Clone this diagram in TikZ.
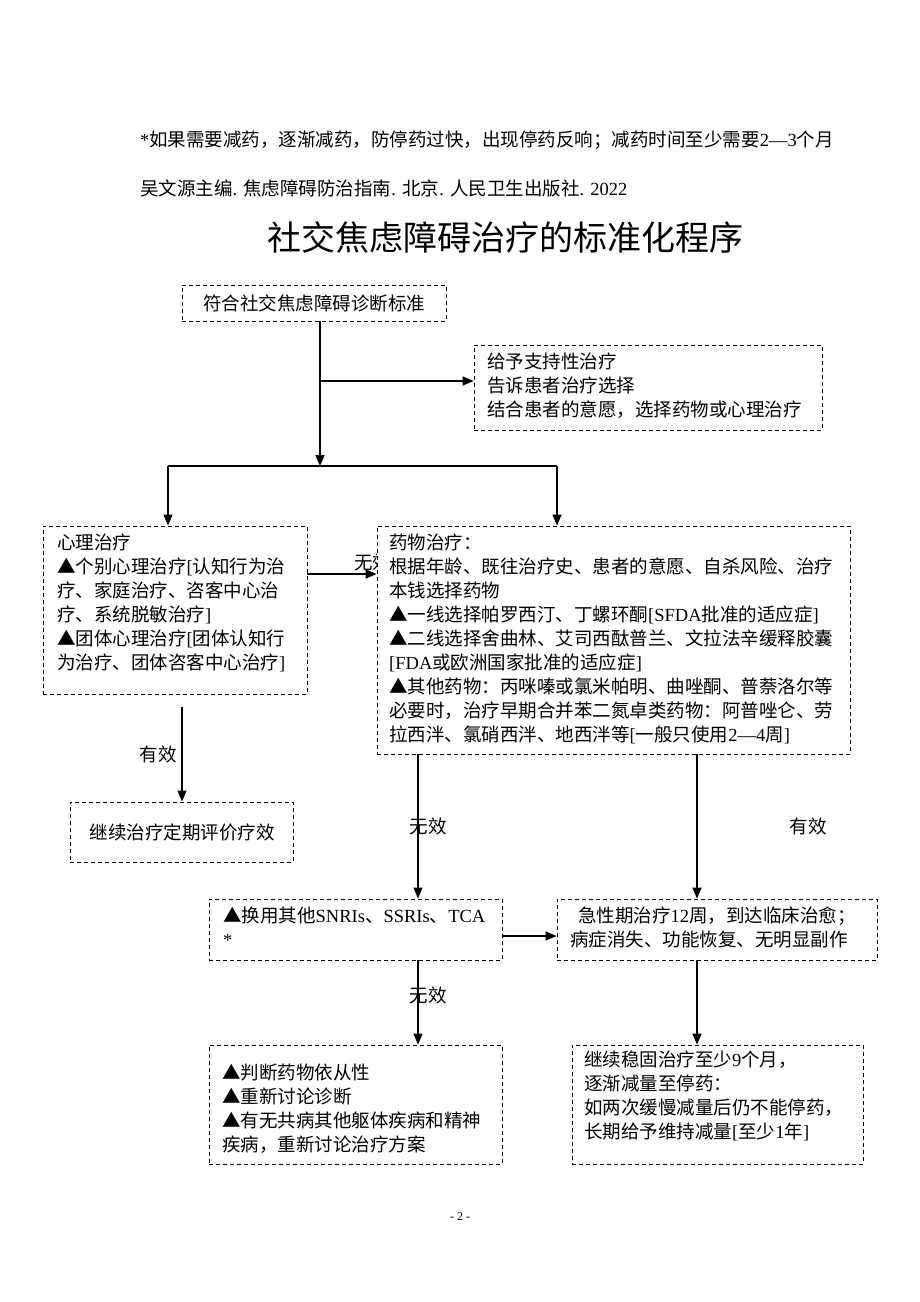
\documentclass[tikz,border=0pt]{standalone}
\usepackage{fontspec}
\setmainfont{Liberation Serif}
\newfontfamily\cjk{Noto Sans CJK SC}
\usetikzlibrary{arrows.meta,fit}
\newcommand\latn[1]{{\rmfamily #1}}
\begin{document}
\begin{tikzpicture}[x=1pt,y=-1pt,
  box/.style={draw, dash pattern=on 4pt off 3pt, line width=0.9pt, fill=white, inner sep=0pt},
  txt/.style={font=\cjk\fontsize{18.5}{24}\selectfont, align=left, inner sep=0pt, anchor=north west},
  ctxt/.style={font=\cjk\fontsize{18.5}{24}\selectfont, align=center, inner sep=0pt},
  lab/.style={font=\cjk\fontsize{18.5}{24}\selectfont, inner sep=0pt},
  head/.style={font=\cjk\fontsize{18.5}{24}\selectfont, inner sep=0pt, anchor=west},
  conn/.style={line width=1.3pt},
  arr/.style={conn, -{Triangle[length=11pt,width=9pt]}}]
\useasboundingbox[fill=white] (0,0) rectangle (920,1302);

% header
\node[head] (h1) at (140,140) {\latn{*}如果需要减药，逐渐减药，防停药过快，出现停药反响；减药时间至少需要\latn{2—3}个月};
\node[head] (h2) at (140,188) {吴文源主编\latn{. }焦虑障碍防治指南\latn{. }北京\latn{. }人民卫生出版社\latn{. 2022}};
\node[font=\cjk\fontsize{34}{40}\selectfont, inner sep=0pt] (title) at (505,237) {社交焦虑障碍治疗的标准化程序};

% label partly covered by the drug box
\node[lab, anchor=west] (lw0) at (354,562) {无效};

% boxes
\node[box, fit={(182,285) (446,321)}] (b1) {};
\node[box, fit={(474,345) (822,430)}] (b2) {};
\node[box, fit={(43,526) (307,694)}] (L) {};
\node[box, fit={(377,526) (850,754)}] (R) {};
\node[box, fit={(70,802) (293,862)}] (lc) {};
\node[box, fit={(209,899) (502,960)}] (s) {};
\node[box, fit={(557,899) (877,960)}] (a) {};
\node[box, fit={(209,1045) (502,1164)}] (jb) {};
\node[box, fit={(572,1045) (863,1164)}] (k) {};

% texts
\node[ctxt] (b1t) at (314,303) {符合社交焦虑障碍诊断标准};
\node[txt] (b2t) at (487,353) {给予支持性治疗\\告诉患者治疗选择\\结合患者的意愿，选择药物或心理治疗};
\node[txt] (Lt) at (57,534) {心理治疗\\▲个别心理治疗\latn{[}认知行为治\\疗、家庭治疗、咨客中心治\\疗、系统脱敏治疗\latn{]}\\▲团体心理治疗\latn{[}团体认知行\\为治疗、团体咨客中心治疗\latn{]}};
\node[txt] (Rt) at (389,534) {药物治疗：\\根据年龄、既往治疗史、患者的意愿、自杀风险、治疗\\本钱选择药物\\▲一线选择帕罗西汀、丁螺环酮\latn{[SFDA}批准的适应症\latn{]}\\▲二线选择舍曲林、艾司西酞普兰、文拉法辛缓释胶囊\\\latn{[FDA}或欧洲国家批准的适应症\latn{]}\\▲其他药物：丙咪嗪或氯米帕明、曲唑酮、普萘洛尔等\\必要时，治疗早期合并苯二氮卓类药物：阿普唑仑、劳\\拉西泮、氯硝西泮、地西泮等\latn{[}一般只使用\latn{2—4}周\latn{]}};
\node[ctxt] (lct) at (182,832) {继续治疗定期评价疗效};
\node[txt] (st) at (223,907) {▲换用其他\latn{SNRIs}、\latn{SSRIs}、\latn{TCA}\\\latn{*}};
\node[txt] (at) at (570,907) {\hspace{8pt}急性期治疗\latn{12}周，到达临床治愈；\\病症消失、功能恢复、无明显副作};
\node[txt] (jt) at (222,1064) {▲判断药物依从性\\▲重新讨论诊断\\▲有无共病其他躯体疾病和精神\\疾病，重新讨论治疗方案};
\node[txt] (kt) at (584,1051) {继续稳固治疗至少\latn{9}个月，\\逐渐减量至停药：\\如两次缓慢减量后仍不能停药，\\长期给予维持减量\latn{[}至少\latn{1}年\latn{]}};

% connectors
\coordinate (j) at (320,466);
\coordinate (jl) at (168,466);
\coordinate (jr) at (557,466);
\coordinate (m) at (320,381);
\draw[arr] (b1.south -| j) -- (j);
\draw[arr] (m) -- (m -| b2.west);
\draw[conn] (jl) -- (jr);
\draw[arr] (jl) -- (jl |- L.north);
\draw[arr] (jr) -- (jr |- R.north);
\coordinate (lr) at (307,574);
\draw[arr] (lr) -- (lr -| R.west);
\coordinate (l1) at (182,707);
\draw[arr] (l1) -- (l1 |- lc.north);
\coordinate (r1) at (418,754);
\draw[arr] (r1) -- (r1 |- s.north);
\coordinate (r2) at (697,754);
\draw[arr] (r2) -- (r2 |- a.north);
\coordinate (sa) at (502,936);
\draw[arr] (sa) -- (sa -| a.west);
\coordinate (s1) at (418,960);
\draw[arr] (s1) -- (s1 |- jb.north);
\coordinate (a1) at (697,960);
\draw[arr] (a1) -- (a1 |- k.north);

% labels
\node[lab] (lab1) at (158,754) {有效};
\node[lab] (lab2) at (428,826) {无效};
\node[lab] (lab3) at (808,826) {有效};
\node[lab] (lab4) at (428,995) {无效};

\node[font=\rmfamily\fontsize{12}{14}\selectfont, inner sep=0pt] (pg) at (460,1217) {- 2 -};
\end{tikzpicture}
\end{document}
